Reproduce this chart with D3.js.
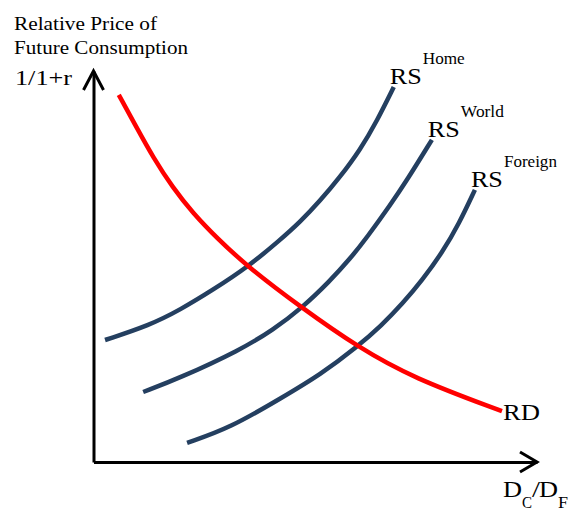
<!DOCTYPE html>
<html>
<head>
<meta charset="utf-8">
<script src="https://cdn.jsdelivr.net/npm/d3@7/dist/d3.min.js"></script>
<style>
  html, body { margin: 0; padding: 0; background: #ffffff; }
  svg { display: block; }
  svg text { font-family: "Liberation Serif", "Times New Roman", Times, serif; fill: #000; }
</style>
</head>
<body>
<svg id="chart" width="572" height="518"></svg>
<script>
// Relative supply (RS) and relative demand (RD) for future consumption.
// x: D_C / D_F, y: relative price of future consumption 1/(1+r), both in 0–10 units.
const rsHome = [
  [0.26, 3.12], [1.27, 3.50], [1.95, 3.89], [2.69, 4.40], [3.48, 4.99], [4.21, 5.68],
  [4.66, 6.14], [5.11, 6.68], [5.56, 7.29], [6.01, 7.98], [6.39, 8.72], [6.77, 9.59]
];
const rsWorld = [
  [1.12, 1.79], [1.95, 2.15], [3.30, 2.86], [4.05, 3.38], [4.70, 3.94], [5.33, 4.63],
  [5.78, 5.19], [6.17, 5.75], [6.69, 6.57], [7.07, 7.21], [7.63, 8.24]
];
const rsForeign = [
  [2.11, 0.49], [3.08, 0.87], [4.27, 1.66], [5.11, 2.23], [5.94, 2.94], [6.50, 3.50],
  [6.96, 4.04], [7.41, 4.65], [7.86, 5.35], [8.24, 6.09], [8.60, 6.96]
];
const rd = [
  [0.57, 9.39], [0.98, 8.54], [1.34, 7.80], [1.79, 7.01], [2.24, 6.37], [2.78, 5.73],
  [3.48, 4.99], [4.70, 3.94], [5.96, 2.94], [7.20, 2.15], [9.21, 1.30]
];
const supplyNames = ["Home", "World", "Foreign"];
const supplySeries = [rsHome, rsWorld, rsForeign];

const svg = d3.select("#chart");
const x = d3.scaleLinear().domain([0, 10]).range([93.5, 537]);
const y = d3.scaleLinear().domain([0, 10]).range([462, 71]);

const serif = '"Liberation Serif", "Times New Roman", Times, serif';
const axisColor = "#000";
const rsColor = "#243f60";
const rdColor = "#ff0000";

// Axes: plain lines with open arrowheads, no ticks
const xAxis = svg.append("g").attr("transform", `translate(0,${y(0)})`)
  .call(d3.axisBottom(x).tickValues([]).tickSizeOuter(0));
const yAxis = svg.append("g").attr("transform", `translate(${x(0)},0)`)
  .call(d3.axisLeft(y).tickValues([]).tickSizeOuter(0));
[xAxis, yAxis].forEach(g => g.select(".domain")
  .attr("stroke", axisColor).attr("stroke-width", 3));

svg.append("path")
  .attr("d", `M${x(10) - 17},${y(0) - 10}L${x(10)},${y(0)}L${x(10) - 17},${y(0) + 10}`)
  .attr("fill", "none").attr("stroke", axisColor).attr("stroke-width", 3);
svg.append("path")
  .attr("d", `M${x(0) - 10},${y(10) + 19}L${x(0)},${y(10)}L${x(0) + 10},${y(10) + 19}`)
  .attr("fill", "none").attr("stroke", axisColor).attr("stroke-width", 3);

// Smoothing B-spline through the sampled points (passes through both ends)
const line = d3.line().x(d => x(d[0])).y(d => y(d[1])).curve(d3.curveBasis);

// Supply curves
supplySeries.forEach(s => {
  svg.append("path").datum(s)
    .attr("d", line)
    .attr("fill", "none").attr("stroke", rsColor).attr("stroke-width", 4.5);
});

// Demand curve
svg.append("path").datum(rd)
  .attr("d", line)
  .attr("fill", "none").attr("stroke", rdColor).attr("stroke-width", 4.5);

function label(px, py, size, width, str) {
  return svg.append("text").attr("x", px).attr("y", py)
    .attr("font-family", serif).attr("font-size", size)
    .attr("textLength", width).attr("lengthAdjust", "spacingAndGlyphs")
    .text(str);
}

// Curve labels
const supWidths = { Home: 42, World: 43, Foreign: 53 };
supplySeries.forEach((s, i) => {
  const end = s[s.length - 1];
  const lx = x(end[0]) - 4, ly = y(end[1]) - 3;
  label(lx, ly, 24, 32, "RS");
  label(lx + 33, ly - 20, 16, supWidths[supplyNames[i]], supplyNames[i]);
});
const rdEnd = rd[rd.length - 1];
label(x(rdEnd[0]) + 1, y(rdEnd[1]) + 9, 24, 37, "RD");

// Axis titles
label(14, 30, 18.5, 143, "Relative Price of");
label(14, 54, 18.5, 174, "Future Consumption");
label(15, 85, 21.5, 57, "1/1+r");

label(503, 497, 24, 19, "D");
label(522, 508, 16, 10, "C");
label(532, 497, 24, 8, "/");
label(539, 497, 24, 19, "D");
label(558, 508, 16, 10, "F");
</script>
</body>
</html>
